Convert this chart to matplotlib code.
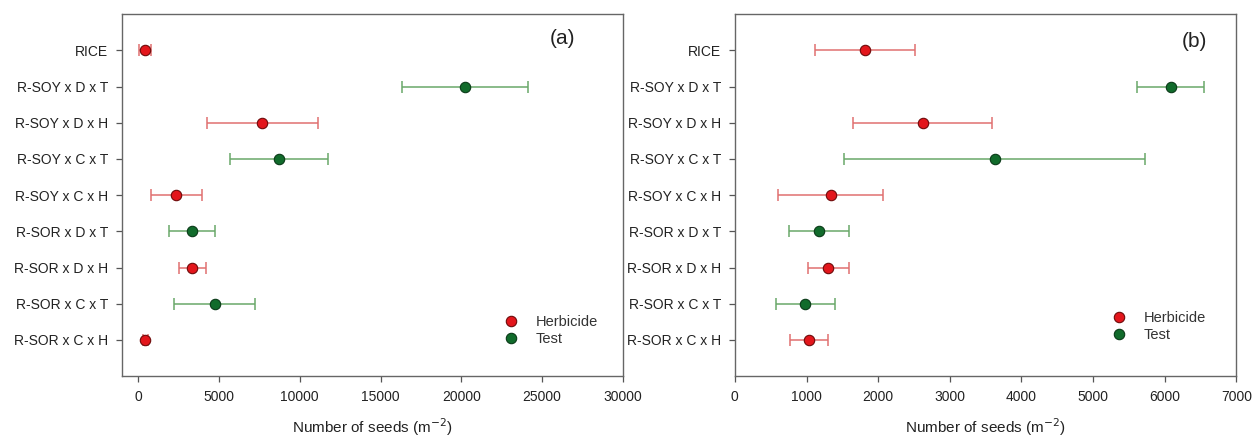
import matplotlib.pyplot as plt

plt.rcParams['font.family'] = ['Liberation Sans', 'DejaVu Sans']

categories = ["RICE", "R-SOY x D x T", "R-SOY x D x H", "R-SOY x C x T", "R-SOY x C x H",
              "R-SOR x D x T", "R-SOR x D x H", "R-SOR x C x T", "R-SOR x C x H"]
treatment = ["H", "T", "H", "T", "H", "T", "H", "T", "H"]

# panel (a)
mean_a = [420, 20250, 7670, 8730, 2350, 3340, 3350, 4730, 450]
err_a = [360, 3900, 3430, 3030, 1570, 1440, 830, 2500, 150]

# panel (b)
mean_b = [1820, 6080, 2625, 3625, 1335, 1180, 1305, 985, 1030]
err_b = [700, 465, 970, 2100, 730, 420, 285, 415, 265]

red_fill = "#e3161c"
red_edge = "#6e0a0a"
red_bar = "#e07070"
green_fill = "#116b2b"
green_edge = "#0a3a18"
green_bar = "#6aa86a"

fig = plt.figure(figsize=(12.54, 4.41), dpi=100)
ax1 = fig.add_axes([0.0973, 0.147, 0.3995, 0.821])
ax2 = fig.add_axes([0.586, 0.147, 0.400, 0.821])


def draw(ax, means, errs, xlim, xticks, tag, tagpos, legpos):
    ypos = list(range(len(categories)))
    for i in ypos:
        herb = treatment[i] == "H"
        ax.errorbar(means[i], i, xerr=errs[i], fmt="none",
                    ecolor=red_bar if herb else green_bar, elinewidth=1.1,
                    capsize=4, capthick=1.1, zorder=2)
        ax.plot(means[i], i, "o", ms=7.5,
                mfc=red_fill if herb else green_fill,
                mec=red_edge if herb else green_edge, mew=0.8, zorder=3)
    ax.set_ylim(len(categories), -1)
    ax.set_yticks(ypos)
    ax.set_yticklabels(categories)
    ax.set_xlim(*xlim)
    ax.set_xticks(xticks)
    ax.set_xlabel("Number of seeds (m$^{-2}$)", fontsize=11, labelpad=9, color="#222222")
    ax.tick_params(direction="out", length=4, width=0.9, colors="#555555",
                   labelcolor="#222222", labelsize=10, pad=6)
    for s in ax.spines.values():
        s.set_color("#666666")
        s.set_linewidth(1.0)
    ax.text(tagpos[0], tagpos[1], tag, transform=ax.transAxes, fontsize=15,
            ha="center", va="center", color="#222222")
    h1, = ax.plot([], [], "o", ms=7.5, mfc=red_fill, mec=red_edge, mew=0.8, label="Herbicide")
    h2, = ax.plot([], [], "o", ms=7.5, mfc=green_fill, mec=green_edge, mew=0.8, label="Test")
    ax.legend(handles=[h1, h2], loc="upper left", bbox_to_anchor=legpos, frameon=False,
              handlelength=1.0, handletextpad=1.2, labelspacing=0.2, fontsize=10.5,
              labelcolor="#333333")


draw(ax1, mean_a, err_a, (-1000, 30000), range(0, 30001, 5000), "(a)", (0.88, 0.934),
     (0.735, 0.205))
draw(ax2, mean_b, err_b, (0, 7000), range(0, 7001, 1000), "(b)", (0.916, 0.923),
     (0.725, 0.215))

plt.savefig("out.png", dpi=100)
